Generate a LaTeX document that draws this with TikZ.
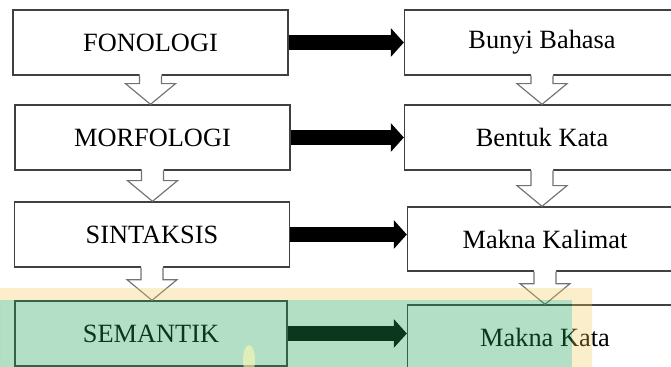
\documentclass[tikz,border=0pt]{standalone}
\usepackage{fontspec}
\setmainfont{Liberation Serif}
\usepackage{tikz}
\usetikzlibrary{arrows.meta,calc,positioning}

\definecolor{greenglow}{RGB}{31,163,85}
\definecolor{yellowglow}{RGB}{245,200,80}

\tikzset{
  levelbox/.style={draw=black!75, line width=0.4mm, fill=white,
    minimum width=82.5mm, minimum height=19.5mm, inner sep=0pt,
    font=\fontsize{22.5}{27}\selectfont},
  bigarrow/.style={line width=4.5mm, black,
    -{Triangle[length=3.9mm,width=8.4mm]}},
  hollow/.style={draw=black!55, line width=0.35mm}
}

% hollow block arrow from the bottom of #1 to the top of #2
\newcommand{\hollowdown}[2]{%
  \fill[white] let \p1=(#1.south), \p2=(#2.north) in
    (\x1-3.3mm,\y1+0.6mm) -- (\x1-3.3mm,\y2+6.2mm) -- (\x1-7.5mm,\y2+6.2mm)
    -- (\x1,\y2) -- (\x1+7.5mm,\y2+6.2mm) -- (\x1+3.3mm,\y2+6.2mm)
    -- (\x1+3.3mm,\y1+0.6mm) -- cycle;
  \draw[hollow] let \p1=(#1.south), \p2=(#2.north) in
    (\x1-3.3mm,\y1) -- (\x1-3.3mm,\y2+6.2mm) -- (\x1-7.5mm,\y2+6.2mm)
    -- (\x1,\y2) -- (\x1+7.5mm,\y2+6.2mm) -- (\x1+3.3mm,\y2+6.2mm)
    -- (\x1+3.3mm,\y1);
}

\begin{document}
\begin{tikzpicture}[x=0.3mm, y=-0.3mm]
  \useasboundingbox (0,0) rectangle (671,367);
  \clip (0,0) rectangle (671,367);

  % left column
  \node[levelbox] (fon) at (150.5,42.5) {FONOLOGI};
  \node[levelbox] (mor) at (152.5,137.5) {MORFOLOGI};
  \node[levelbox] (sin) at (152,234.5) {SINTAKSIS};
  \node[levelbox, minimum width=81.6mm] (sem) at (151,333.5) {SEMANTIK};

  % right column
  \node[levelbox] (bun) at (542,42.5) {Bunyi Bahasa};
  \node[levelbox] (ben) at (542,137.5) {Bentuk Kata};
  \node[levelbox, minimum height=19.2mm] (mkl) at (545,239) {Makna Kalimat};
  \node[levelbox] (mkt) at (545,337.5) {Makna Kata};

  % downward arrows
  \hollowdown{fon}{mor}
  \hollowdown{mor}{sin}
  \hollowdown{sin}{sem}
  \hollowdown{bun}{ben}
  \hollowdown{ben}{mkl}
  \hollowdown{mkl}{mkt}

  % arrows to the right
  \draw[bigarrow] (fon.east) -- (fon.east -| bun.west);
  \draw[bigarrow] (mor.east) -- (mor.east -| ben.west);
  \draw[bigarrow] (sin.east) -- (sin.east -| mkl.west);
  \draw[bigarrow] (sem.east) -- (sem.east -| mkt.west);

  % coloured highlight over the bottom row
  \fill[yellowglow, opacity=.3, even odd rule]
    (0,288) rectangle (592,370) (0,300) rectangle (572,370);
  \fill[greenglow, opacity=.34] (0,300) rectangle (572,370);
  \fill[yellow!30!white, opacity=.6] (249,360) ellipse [x radius=1.8mm, y radius=4.5mm];
\end{tikzpicture}
\end{document}
